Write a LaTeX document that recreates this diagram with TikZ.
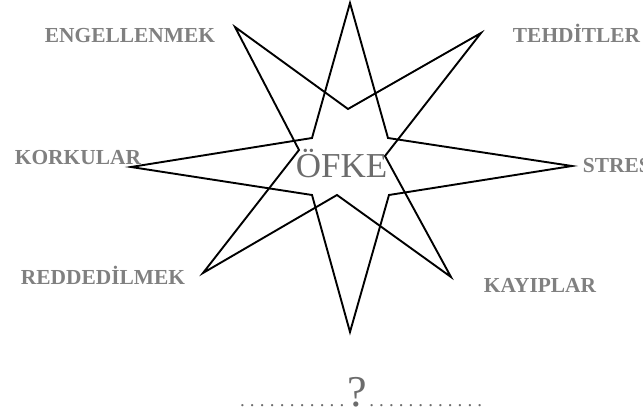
\documentclass[tikz,border=0pt]{standalone}
\usepackage{fontspec}
\setmainfont{Liberation Serif}
\definecolor{lblgray}{RGB}{128,128,128}
\definecolor{midgray}{RGB}{108,108,108}

\begin{document}
\begin{tikzpicture}[x=1pt,y=-1pt,line width=1.9pt,line join=miter,
  lbl/.style={anchor=base west,inner sep=0pt,text=lblgray,
    font=\bfseries\fontsize{21.4}{22}\selectfont},
  core/.style={anchor=base west,inner sep=0pt,text=midgray,
    font=\fontsize{35}{36}\selectfont}]
% dotted run helper: #1 = width of the run
\newcommand{\dotrun}[1]{\hbox to #1{\xleaders\hbox to 9.6pt{\hss.\hss}\hfill}}
\clip (0,0) rectangle (643,414);
\useasboundingbox (0,0) rectangle (643,414);
% upright four-point star
\draw (350,3) -- (388,138) -- (572,166) -- (389,195) -- (350,332)
      -- (312,195) -- (131,167) -- (312,138) -- cycle;
% diagonal four-point star
\draw (235,27) -- (348,109) -- (481,33) -- (385,156) -- (451,277)
      -- (337,195) -- (203,273) -- (299,150) -- cycle;
% centre word
\node[core] (ofke) at (295,178) {ÖFKE};
% outer labels
\node[lbl] (engel) at (44,42.5)  {ENGELLENMEK};
\node[lbl] (tehdit) at (512,42.5) {TEHDİTLER};
\node[lbl] (korku) at (14,165)   {KORKULAR};
\node[lbl] (stres) at (582,173)  {STRES};
\node[lbl] (red) at (20,285)     {REDDEDİLMEK};
\node[lbl] (kayip) at (483,293)  {KAYIPLAR};
% question line
\node[anchor=base,inner sep=0pt,text=midgray] (soru) at (361,406)
  {{\fontsize{19}{19}\selectfont\dotrun{110pt}}{\fontsize{44}{44}\selectfont ?}{\fontsize{19}{19}\selectfont\dotrun{118pt}}};
\end{tikzpicture}
\end{document}
